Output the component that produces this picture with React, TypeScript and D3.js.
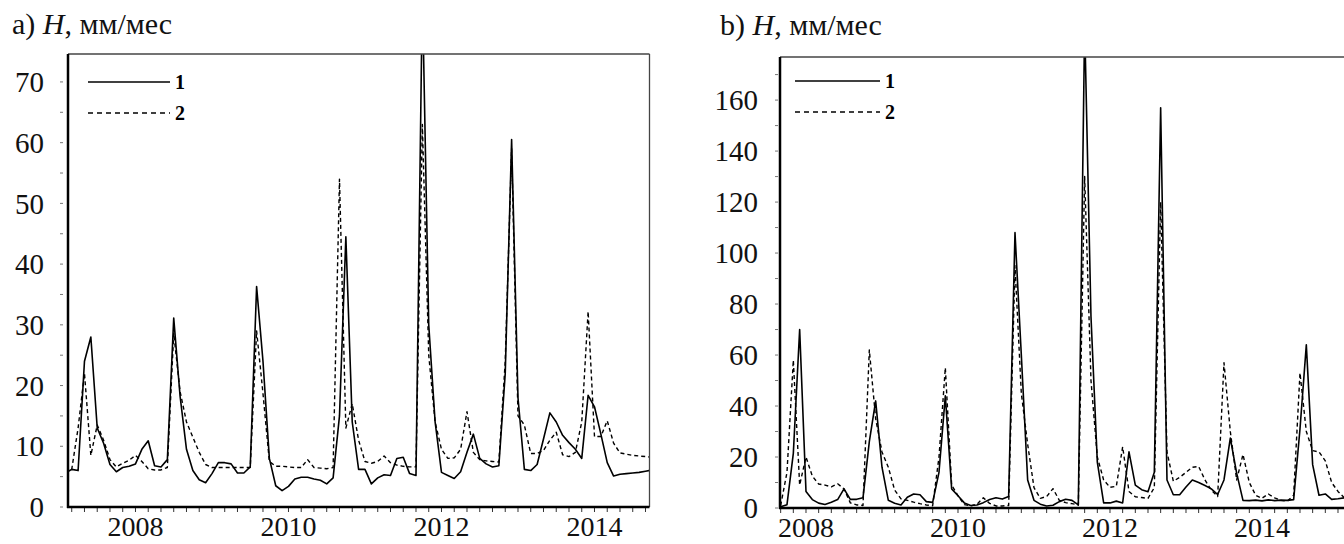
import React from "react";
import * as d3 from "d3";

// monthly values, H mm/month. panel a starts Feb 2007, panel b starts Sep 2007
const startA = 2007 + 1 / 12;
const startB = 2007 + 8 / 12;

const a1 = [
  5.6, 6.2, 6.0, 24, 28, 13, 10.5, 7, 5.8, 6.5,
  6.7, 7.1, 9.5, 10.9, 6.8, 6.6, 7.8, 31.1, 18.2, 9.5,
  6, 4.5, 4.0, 5.5, 7.3, 7.3, 7.1, 5.6, 5.6, 6.6,
  36.3, 24, 8, 3.5, 2.7, 3.4, 4.6, 4.9, 4.9, 4.6,
  4.4, 3.8, 4.8, 15, 44.5, 14, 6.2, 6.2, 3.8, 4.8,
  5.3, 5.2, 8, 8.2, 5.5, 5.2, 85, 30, 14, 5.7,
  5.2, 4.7, 5.8, 9, 12, 8.0, 7.1, 6.6, 6.8, 22,
  60.5, 18, 6.2, 6.0, 7, 11.2, 15.5, 14, 11.8, 10.6,
  9.5, 8, 18.4, 16.5, 12, 7.3, 5.1, 5.4, 5.5, 5.6,
  5.7, 5.9, 6.1,
];
const a2 = [
  5.6, 6.2, 13, 22, 8.5, 13.5, 11, 7.8, 6.6, 7.2,
  7.7, 8.5, 7.5, 6.3, 6.1, 6.1, 6.5, 28.6, 19, 14,
  11.5, 9, 7, 6.5, 6.5, 6.5, 6.5, 6.5, 6.5, 6.5,
  29, 18.7, 7.5, 6.7, 6.7, 6.6, 6.5, 6.5, 7.8, 6.5,
  6.4, 6.3, 6.5, 54, 13, 17, 11, 7.5, 7.2, 7.5,
  8.4, 7.3, 6.9, 6.7, 6.6, 6.6, 63, 25, 14, 9.5,
  8, 8.1, 9.5, 15.7, 9, 7.8, 7.6, 7.5, 7.4, 24,
  59, 15, 13.5, 8.8, 8.8, 9.3, 11, 12.3, 8.6, 8.3,
  9, 14, 32.2, 11.6, 11.6, 14.2, 10.5, 8.9, 8.7, 8.5,
  8.4, 8.3, 8.2,
];
const b1 = [
  0.5, 1.3, 21.4, 70, 6.5, 3.3, 1.9, 1.4, 2.3, 3.3,
  7.5, 3.4, 3.4, 4, 26, 42, 16, 3, 1.9, 1.2,
  4.2, 5.5, 5.2, 2.5, 2.2, 14, 44, 7.5, 4.8, 2,
  1, 1.2, 2.1, 3.3, 4, 3.5, 4.5, 108, 60, 11,
  3, 1.5, 0.8, 1.1, 2.5, 3.4, 3, 1.2, 190, 75,
  18, 2, 2, 2.7, 2, 22, 9, 7.2, 6.4, 14,
  157, 11, 5.2, 5.2, 8.2, 11, 10, 8.8, 7.5, 5.3,
  11, 27.4, 13.7, 3, 2.9, 3.1, 2.8, 3.2, 2.9, 3.1,
  3, 3.3, 31, 64, 17, 5, 5.5, 3.4, 3.6, 4,
  4,
];
const b2 = [
  1, 14, 58, 9, 20, 12.5, 9.4, 9, 8.3, 9.5,
  7.5, 2, 1.2, 1, 62, 35, 22, 16, 7, 3.6,
  3, 2.3, 1.7, 1.2, 0.9, 20, 55, 9, 4.8, 1.3,
  0.8, 1.5, 4, 1.8, 0.8, 0.8, 1, 95, 45, 25,
  8, 3.8, 4.5, 7.6, 3, 2.1, 1.7, 1.2, 130, 50,
  20, 11, 8.1, 8.5, 24, 6.5, 4.4, 4.1, 3.8, 8,
  120, 22, 10.5, 12, 14, 16, 16.3, 11, 7, 4.5,
  57, 30, 11, 21, 10, 5, 3.8, 5.5, 4, 3,
  2.7, 5, 53, 30, 22.5, 22, 18.5, 10, 6.5, 4,
  3.8,
];

const yearLabels = [2008, 2010, 2012, 2014];
const yLabelsA = [0, 10, 20, 30, 40, 50, 60, 70];
const yLabelsB = [0, 20, 40, 60, 80, 100, 120, 140, 160];
const legendNames = ["1", "2"];

const FONT = "Liberation Serif";

const panels = [
  {
    id: "a", letter: "a)", s1: a1, s2: a2, start: startA, yLabels: yLabelsA,
    xDomain: [2007.118, 2014.719], yMax: 74.6, yMinor: 5,
    left: 68, right: 649.5, top: 54, bottom: 507,
    tickX0: 60, tickX1: 63, labelRight: 44, titleX: 12, titleY: 34,
    legX: 88, legW: 82, legY: 82,
  },
  {
    id: "b", letter: "b)", s1: b1, s2: b2, start: startB, yLabels: yLabelsB,
    xDomain: [2007.658, 2015.316], yMax: 176.9, yMinor: 10,
    left: 780, right: 1362, top: 57, bottom: 508,
    tickX0: 775, tickX1: 778, labelRight: 758, titleX: 720, titleY: 35,
    legX: 795, legW: 85, legY: 81,
  },
];

function Panel({ p }) {
  const x = d3.scaleLinear().domain(p.xDomain).range([p.left, p.right]);
  const y = d3.scaleLinear().domain([0, p.yMax]).range([p.bottom, p.top]);
  const line = d3
    .line<number>()
    .x((d, i) => x(p.start + i / 12))
    .y((d) => y(d));

  // bimonthly ticks on the time axis
  const xTicks = d3
    .range(Math.ceil(p.xDomain[0] * 6), Math.floor(p.xDomain[1] * 6) + 1)
    .map((k) => k / 6);
  const yTicks = d3.range(0, p.yMax, p.yMinor);
  const clipId = "clip-" + p.id;

  return (
    <g>
      <defs>
        <clipPath id={clipId}>
          <rect x={p.left} y={p.top} width={p.right - p.left} height={p.bottom - p.top} />
        </clipPath>
      </defs>

      <text x={p.titleX} y={p.titleY} fontFamily={FONT} fontSize={30} fill="#111">
        {p.letter + " "}
        <tspan fontStyle="italic">H</tspan>
        {", мм/мес"}
      </text>

      {yTicks.map((t) => (
        <line key={"yt" + t} x1={p.tickX0} x2={p.tickX1} y1={y(t)} y2={y(t)} stroke="#777" strokeWidth={1} />
      ))}
      {p.yLabels.map((t) => (
        <text key={"yl" + t} x={p.labelRight} y={y(t)} dy="0.35em" textAnchor="end"
          fontFamily={FONT} fontSize={29} fill="#111">
          {t}
        </text>
      ))}

      {xTicks.map((t) => (
        <line key={"xt" + t} x1={x(t)} x2={x(t)} y1={p.bottom} y2={p.bottom + 5} stroke="#333" strokeWidth={1} />
      ))}
      {yearLabels.map((yr) => (
        <text key={"xl" + yr} x={x(yr)} y={p.bottom + 29} textAnchor="middle"
          fontFamily={FONT} fontSize={28} fill="#111">
          {yr}
        </text>
      ))}

      <g clipPath={`url(#${clipId})`} fill="none" stroke="#000" strokeLinejoin="round">
        <path d={line(p.s2)} strokeWidth={1.4} strokeDasharray="4,3" />
        <path d={line(p.s1)} strokeWidth={1.6} />
      </g>

      {/* frame */}
      <line x1={p.left} x2={p.right} y1={p.top} y2={p.top} stroke="#444" strokeWidth={1.3} />
      <line x1={p.right} x2={p.right} y1={p.top} y2={p.bottom} stroke="#444" strokeWidth={1.3} />
      <line x1={p.left} x2={p.left} y1={p.top} y2={p.bottom + 1} stroke="#000" strokeWidth={2.5} />
      <line x1={p.left - 1} x2={p.right} y1={p.bottom} y2={p.bottom} stroke="#000" strokeWidth={2.5} />

      {/* legend */}
      {legendNames.map((name, i) => (
        <g key={"lg" + name} transform={`translate(${p.legX}, ${p.legY + i * 31})`}>
          <line x1={0} x2={p.legW} y1={0} y2={0} stroke="#000"
            strokeWidth={i === 0 ? 1.6 : 1.4} strokeDasharray={i === 0 ? null : "5,4"} />
          <text x={p.legW + 5} y={0} dy="0.35em" fontFamily={FONT} fontWeight="bold" fontSize={20} fill="#000">
            {name}
          </text>
        </g>
      ))}
    </g>
  );
}

export default function App() {
  return (
    <svg width={1344} height={544} style={{ position: "absolute", left: 0, top: 0, background: "#fff" }}>
      <rect width={1344} height={544} fill="#fff" />
      {panels.map((p) => (
        <Panel key={p.id} p={p} />
      ))}
    </svg>
  );
}
